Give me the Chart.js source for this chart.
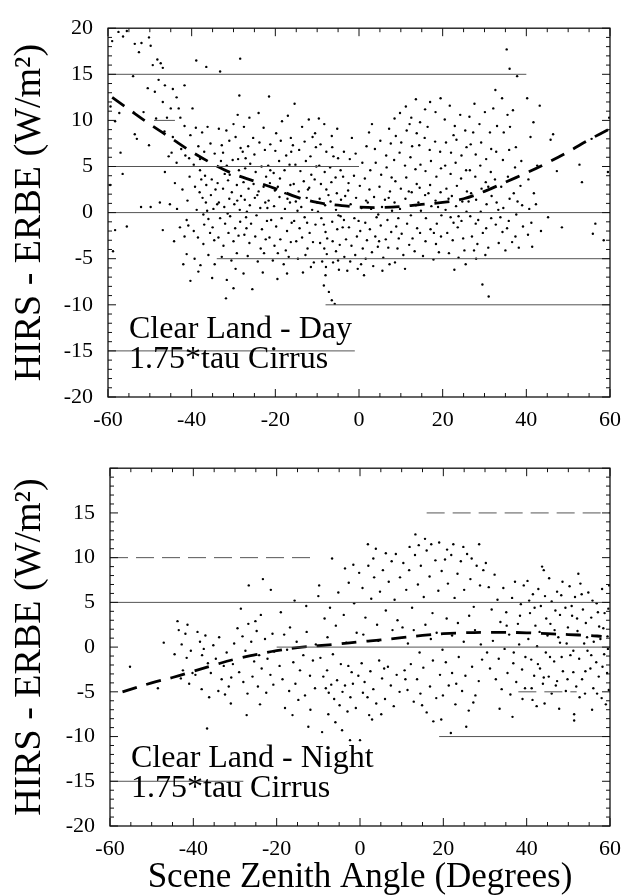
<!DOCTYPE html>
<html>
<head>
<meta charset="utf-8">
<script src="https://cdn.jsdelivr.net/npm/chart.js@4.4.0/dist/chart.umd.min.js"></script>
<style>
  html, body { margin: 0; padding: 0; background: #fff; }
  #wrap { position: relative; width: 631px; height: 895px; }
  canvas { position: absolute; left: 0; }
</style>
</head>
<body>
<div id="wrap">
  <canvas id="dayChart" width="631" height="440" style="top:0"></canvas>
  <canvas id="nightChart" width="631" height="455" style="top:440px"></canvas>
</div>
<script>
// scene zenith angle vs. HIRS - ERBE difference, one pair per footprint
const dayPoints = [
  [-59,18.6],[-57.5,19.6],[-56.4,19.1],[-55.5,19.7],[-53.6,18.3],[-52.6,17.4],[-52,18.4],[-50.2,19],[-49.8,18.1],[-49.3,16],
  [-48.2,16.6],[-47.4,16.2],[-46.9,15.7],[-47.9,14.4],[-46.4,13.8],[-48.8,13.1],[-46.9,12],[-58.3,9.9],[-57.3,10.8],[-59.4,11.5],
  [-53.6,8.5],[-53.1,8],[-50.2,7.3],[-56.5,4.2],[-52.1,0.6],[-49.8,0.6],[-55.5,-1.5],[-58.3,-1.9],[-46.9,-1.9],[-46.4,4.4],
  [-58.8,-4.2],[-59.5,3],[-54,14.8],[-51.5,10.9],[-48.5,10.2],[-50.5,13.5],[-46.5,8.8],[-47.6,1.1],[-57,6.5],
  [-45,11.3],[-45.9,10.3],[-44.5,13.4],[-43.6,12.5],[-41.7,13.8],[-43.1,11.3],[-42.7,10.3],[-41.7,9.4],[-40.3,8.4],[-43.6,5.4],
  [-44.8,6.5],[-42.5,6.9],[-41.5,6.2],[-40.6,5.9],[-44,3.2],[-42.2,2.5],[-41,1.3],[-45.2,0.9],[-43.5,0.4],[-41.2,-0.8],
  [-40.8,-1.4],[-41.7,-2.6],[-42.8,-1.6],[-44.2,-3.1],[-41.2,-4.5],[-40.3,-7.4],[-42,-5.6],[-45.5,6.1],[-40.5,3.9],[-44.5,8.2],
  [-39.8,11.3],[-38.9,16.5],[-36.5,15.8],[-39,9.2],[-37.5,8.7],[-36.2,9.3],[-38.4,7.2],[-37,6.6],[-35.5,7.5],[-34.5,6.4],
  [-39.5,5.2],[-38,4.6],[-36.8,4],[-35.2,3.6],[-39.2,2.8],[-38.1,2.2],[-37.4,1.6],[-36.6,1.1],[-35.4,1.9],[-34.3,2.5],
  [-38.8,0.3],[-37.2,-0.2],[-36,-0.7],[-34.8,0.4],[-39.5,-2],[-38.5,-2.7],[-37.2,-3.4],[-35.6,-2.2],[-34.6,-3],[-38.4,-6.4],
  [-37.9,-5.7],[-39.3,-5],[-36,-4.6],[-34.5,-5.6],[-37,-1.3],[-35,-1.6],[-36.5,3],[-38,5.8],
  [-33.2,15.3],[-28.4,16.7],[-33.5,9.1],[-31.7,8.9],[-30,9.6],[-28.6,12.7],[-29,10.6],[-32.8,7.3],[-31,7.8],[-29.5,8.2],
  [-28.3,7],[-33,5.6],[-31.6,5.1],[-30.2,5.7],[-28.7,4.6],[-33.8,3.2],[-32.5,2.6],[-31.3,3.5],[-30.4,2.2],[-29.2,3],
  [-28.2,1.8],[-33.5,1.1],[-32.2,0.6],[-31,1.5],[-29.8,0.9],[-28.5,0.3],[-33.2,-0.6],[-32,-1.2],[-30.8,-0.4],[-29.6,-1.7],
  [-28.4,-1],[-33.6,-2.7],[-32.4,-3.6],[-31.2,-2.2],[-30,-3.1],[-28.8,-2.5],[-32.8,-4.8],[-30.5,-5.2],[-29.2,-4.4],[-31.6,-7.3],
  [-30,-8.2],[-31.8,-9.3],[-29.5,-6.1],[-32.5,6.5],[-30.9,4.1],[-28.9,5.8],
  [-27.5,9.3],[-26.2,10.3],[-25.3,8.1],[-24,10.8],[-22.8,9.2],[-27.8,6.6],[-26.5,7.2],[-25,6.3],[-23.8,7.6],[-22.5,6.8],
  [-27.2,4.8],[-26,5.3],[-24.7,4.4],[-23.3,5],[-22.2,3.9],[-27.6,3.3],[-26.4,2.6],[-25.2,3.1],[-24,2.3],[-22.8,2.8],
  [-27.3,1.4],[-26.1,0.8],[-24.9,1.6],[-23.6,0.5],[-22.4,1.1],[-27,-0.5],[-25.8,-1.2],[-24.5,-0.3],[-23.2,-1.8],[-22,-0.9],
  [-27.4,-2.4],[-26.2,-3.3],[-24.8,-2.6],[-23.5,-3.9],[-22.3,-2.9],[-26.6,-4.7],[-24.2,-5.3],[-22.7,-4.4],[-25.5,-8.3],[-27.6,-6.6],[-23,-6.5],
  [-21.5,12.6],[-19.8,8.6],[-18.4,9.9],[-17,10.5],[-21.2,7.4],[-20,6.7],[-18.7,7.8],[-17.4,6.2],[-16.3,8.1],[-21.7,5.1],
  [-20.4,4.3],[-19.1,5.6],[-17.8,4.6],[-16.6,5.2],[-21.3,3.2],[-20.1,2.4],[-18.9,3.7],[-17.6,2.1],[-16.4,3],[-21.6,1.3],
  [-20.3,0.7],[-19,1.7],[-17.7,0.4],[-16.5,1.1],[-21,-0.8],[-19.8,-1.5],[-18.5,-0.6],[-17.2,-2],[-16.1,-1.1],[-21.4,-2.7],
  [-20.2,-3.6],[-18.8,-2.9],[-17.5,-4.1],[-16.3,-3.2],[-20.6,-5.2],[-18,-5.6],[-16.8,-4.8],[-19.5,-7.2],[-17.2,-6.6],
  [-15.4,11.8],[-13.6,9.3],[-12,10.1],[-10.5,8.6],[-15.8,7.3],[-14.3,6.8],[-13,7.7],[-11.6,6.1],[-10.3,7.1],[-15.2,5.2],
  [-14,4.5],[-12.7,5.6],[-11.4,4.1],[-10.2,5],[-15.6,3.1],[-14.4,2.3],[-13.2,3.4],[-11.9,2.7],[-10.6,3.6],[-15.1,1.2],
  [-13.8,0.6],[-12.5,1.6],[-11.2,0.3],[-10,1.1],[-15.5,-0.9],[-14.2,-1.7],[-13,-0.5],[-11.8,-2.2],[-10.4,-1.3],[-15,-3.1],
  [-13.6,-2.7],[-12.3,-3.9],[-11,-3.2],[-14.6,-5],[-12.8,-4.6],[-10.8,-5.4],[-13.4,-6.5],[-11.5,-5.9],
  [-9.6,10.2],[-8.3,9.6],[-6.5,8.3],[-5.2,9.1],[-9.2,7.4],[-7.8,6.6],[-6.4,7.1],[-5,5.9],[-9.5,5.1],[-8.2,4.4],
  [-6.9,4.9],[-5.6,3.8],[-4.4,4.6],[-9.1,3.1],[-7.8,2.5],[-6.6,3.3],[-5.3,2.1],[-9.4,1.5],[-8.1,0.8],[-6.8,1.2],
  [-5.5,0.3],[-4.3,1.4],[-9,-0.6],[-8.4,-1.3],[-8,-2.1],[-7.6,-2.8],[-6.4,-1],[-5.2,-1.8],[-4.4,-0.4],[-9.3,-3.3],
  [-8.3,-3.9],[-7.7,-4.5],[-6.3,-3.1],[-5.5,-4.2],[-4.6,-3.5],[-8.8,-5.3],[-7.9,-5.9],[-6.2,-5.4],[-5,-5.2],[-8.4,-7.9],
  [-7.2,-8.6],[-6.5,-9.5],[-5.8,-9.9],[-8,-6.8],[-4.8,-6.2],
  [-3.6,6.6],[-2.2,5.8],[-0.8,6.4],[0.8,5.4],[1.8,7.2],[-3.8,3.9],[-2.5,3.2],[-1.2,4],[0.2,2.9],[1.4,3.7],
  [-3.3,1.8],[-2,0.9],[-0.7,1.6],[0.6,0.5],[1.7,1.3],[-3.6,-0.8],[-2.4,-1.6],[-1.1,-0.6],[0.3,-2],[1.5,-1.1],
  [-3.1,-2.9],[-1.8,-3.6],[-0.5,-2.6],[0.9,-3.9],[1.9,-3],[-3.5,-4.8],[-2.1,-5.3],[-0.9,-4.6],[0.5,-5.6],[1.6,-5],
  [-2.8,-6.3],[-0.3,-6.1],[1.2,-6.8],
  [2.4,8.7],[3.8,6.9],[5.1,7.8],[6.5,6.2],[7.6,7.5],[2.7,4.6],[4,5.4],[5.3,4.1],[6.6,4.9],[7.8,3.8],
  [2.5,2.5],[3.6,1.7],[4.9,2.8],[6.2,1.4],[7.4,2.3],[2.9,0.4],[4.2,-0.5],[5.5,0.6],[6.8,-0.8],[7.9,0.2],
  [2.6,-1.8],[3.9,-2.6],[5.2,-1.4],[6.4,-2.9],[7.7,-2.1],[3.1,-4.3],[4.5,-3.7],[5.8,-4.9],[7,-3.8],[3.4,-5.8],[5.6,-6.3],[7.3,-5.6],
  [8.5,10.2],[9.8,10.8],[11.2,11.5],[12.5,10.3],[13.6,12.3],[8.8,8.3],[10.1,7.6],[11.4,8.9],[12.7,7.2],[13.8,8.6],
  [8.4,5.7],[9.7,6.5],[11,5.1],[12.3,6],[13.5,4.7],[8.7,3.4],[10,2.6],[11.3,3.8],[12.6,2.2],[13.8,3.1],
  [8.5,1.1],[9.8,0.4],[11.1,1.5],[12.4,-0.3],[13.6,0.8],[8.9,-1.5],[10.2,-2.3],[11.5,-1.2],[12.8,-2.8],[13.9,-1.7],
  [9.2,-3.9],[10.6,-4.6],[12,-3.5],[13.3,-4.2],[8.6,-5.4],[11,-6.1],
  [14.6,9.8],[15.8,11.2],[17,12],[18.3,10.9],[19.5,12.4],[14.4,7.3],[15.7,8.1],[16.9,6.8],[18.2,7.7],[19.4,6.6],
  [14.7,5.2],[15.9,4.5],[17.2,5.6],[18.5,3.9],[19.6,4.8],[14.5,2.7],[15.8,1.9],[17,3],[18.3,1.3],[19.5,2.2],
  [14.8,0.2],[16,-0.6],[17.3,0.7],[18.6,-1.2],[19.7,-0.3],[14.6,-2.2],[15.9,-3.1],[17.1,-1.8],[18.4,-3.4],[19.6,-2.6],
  [15.3,-4.7],[17.8,-5.1],[19.1,-4.3],
  [20.5,10.1],[21.7,11.6],[22.9,9.4],[24.2,10.6],[25.4,8.9],[20.8,7.6],[22,6.5],[23.3,7.9],[24.5,6.2],[25.7,7.1],
  [20.6,5.1],[21.9,4.2],[23.1,5.4],[24.4,3.7],[25.6,4.6],[20.9,2.6],[22.2,1.8],[23.4,2.9],[24.7,1.2],[25.8,2.3],
  [20.7,0.3],[21.9,-0.5],[23.2,0.7],[24.5,-0.9],[25.7,0.1],[21.1,-2.2],[22.4,-3],[23.6,-1.6],[24.9,-2.8],[21.5,-4.4],
  [23.8,-4.9],[25.2,-4.1],[22.8,-6.2],[25.5,-5.6],
  [26.4,10.4],[27.6,11.8],[28.8,9.6],[30.1,10.9],[31.3,8.7],[26.7,7.4],[27.9,6.3],[29.2,7.6],[30.4,5.8],[31.6,6.9],
  [26.5,4.6],[27.8,3.9],[29,5.1],[30.3,3.3],[31.5,4.4],[26.8,2.1],[28,1.4],[29.3,2.6],[30.5,0.9],[31.7,1.8],
  [26.6,-0.4],[27.9,-1.2],[29.1,0.1],[30.4,-1.7],[31.6,-0.6],[27,-2.6],[28.3,-3.4],[29.6,-2.2],[30.9,-3.8],[28,-5],
  [30.2,-4.6],[29.5,-7.8],[31,-9.1],
  [32.6,13.3],[34.2,12.4],[35.5,10.6],[33,9.4],[34.6,8.7],[36.1,9.3],[37.5,7.1],[32.8,6.6],[34.4,5.7],[35.9,6.8],
  [37.3,4.9],[38.8,5.6],[32.5,3.6],[34,2.8],[35.6,3.9],[37,2.1],[38.6,2.9],[32.9,1.1],[34.5,0.5],[36,1.5],
  [37.6,-0.2],[39,0.8],[32.7,-1.3],[34.3,-2.1],[35.8,-0.9],[37.4,-2.6],[39.2,-1.5],[33.4,-3.3],[35,-4.1],[36.6,-3.2],
  [38.2,-3.8],[36,15.6],[35.3,17.7],[37.8,14.8],
  [40.2,12.4],[41.7,9.8],[43.2,11.6],[41,8.2],[42.6,5.1],[40.5,3.6],[41.8,2.1],[40.7,0.4],[42.3,0.9],[41.2,-1.1],
  [40.4,-2.4],[41.4,-3.7],[43.5,-2],[45.2,-0.5],[45.8,7.9],[46.4,8.5],[47.3,4.5],[48.5,-1.6],[52.7,5.2],[53.3,3.3],
  [55.6,8],[56.5,-1.2],[58.5,-3],[59.5,4.4],[59.8,10.3],[55.9,-2.3],
  [-36.3,0.2],[-33.9,0.9],[-31.4,-0.1],[-29.1,1.3],[-26.8,0.1],[-24.3,1.9],[-21.9,0.5],[-19.4,2.8],[-17.1,1.5],[-14.7,0.2],
  [-12.2,2.5],[-9.8,0.1],[-7.3,1.9],[-4.9,-0.3],[-2.6,2.4],[-0.1,-0.9],[2.1,1.1],[4.6,-0.2],[7.1,1.6],[9.4,-0.6],
  [11.9,2.3],[14.2,1.1],[16.6,2.1],[18.9,0.6],[21.4,1.5],[23.8,-0.4],[26.2,1.2],[28.5,-0.8],[30.9,2.8],[33.3,0.3],
  [35.4,-1.7],[37.9,1.2],[-37.7,3.6],[-32.1,4.2],[-27.1,5.9],[-21.2,4.6],[-16.2,6.6],[-11.1,8.2],[-6.1,6.1],[-1.7,8.1],
  [3.1,9.6],[7.2,9.1],[12.1,9.6],[16.4,9.3],[22.6,8.4],[27.3,8.7],[32.1,11.3],[36.8,11.1],[-35.1,-7.1],[-26.9,-1.7],
  [-19.4,-4.4],[-12.4,-1.1],[-3.9,-1.6],[4.8,-3.1],[9.5,-2.8],[17.9,-2.2],[22.6,-1.1],[27.5,-4.1],[33.8,-0.5]
];

const nightPoints = [
  [-55.2,-2.2],[-47.1,0.5],[-43.8,2.9],[-43.5,1.9],[-42.8,0.3],[-41.4,2.5],[-41.9,1.5],[-41.6,-1.2],[-42.5,-2.6],[-40.6,-0.4],
  [-40.2,-2.9],[-41,-4.1],[-43,-3.5],[-44.5,-0.8],[-36.7,-9.1],[-48.5,-4.6],
  [-39,1.7],[-38.4,0.6],[-37.9,-0.9],[-37.1,1.3],[-36.5,-1.8],[-35.8,-2.9],[-35.2,0.2],[-34.6,-1.3],[-33.8,1.1],[-33.2,-3.6],
  [-32.7,-2.1],[-32,-0.6],[-31.5,-4.4],[-31,-6.3],[-30.5,-1.9],[-30.2,0.4],[-39.5,-3.1],[-38,-4.7],[-36.2,-5.6],[-34,-4.9],[-32.4,-5.3],
  [-28.6,4.3],[-26.7,6.9],[-23.8,3.6],[-23.3,7.6],[-21.4,6.4],[-21,1.5],[-29.4,2.1],[-28.2,1.2],[-27.5,-0.4],[-26.8,2.6],
  [-26.1,0.6],[-25.4,-1.6],[-24.8,1.8],[-24.2,-0.9],[-23.6,-2.4],[-22.8,0.9],[-22.2,-1.3],[-21.5,-3.1],[-20.6,-0.5],[-29,-2.8],
  [-28,-3.9],[-27,-5.2],[-25.8,-3.3],[-24.5,-4.4],[-22.5,-5.1],[-20.8,-4.2],[-27.2,-7.6],[-24,-6.4],
  [-19,3.9],[-15.7,5.2],[-12.9,4.6],[-10,5.7],[-18.2,1.4],[-17.5,-0.3],[-16.8,2.2],[-16,-1.7],[-15.2,0.6],[-14.4,-2.6],
  [-13.6,-0.9],[-12.8,1.7],[-12,-3.2],[-11.3,-1.5],[-10.6,0.3],[-19.3,-2.1],[-18.6,-3.6],[-17,-4.9],[-15.5,-4.1],[-14.8,-5.9],
  [-13.2,-5.4],[-11.9,-7],[-12.4,-8.9],[-10.8,-4.6],[-18,-6.8],[-16.2,-7.6],
  [-6.7,9.9],[-9.1,-9.5],[-4.3,-9.3],[-2.4,-10.4],[-8.5,3.2],[-7.8,1.1],[-7.2,4.4],[-6.5,-0.8],[-5.8,2.4],[-5.2,6.1],
  [-4.6,-1.9],[-3.9,3.6],[-3.3,0.5],[-2.7,7.2],[-2,-2.8],[-1.4,4.9],[-0.8,1.6],[-0.2,8.3],[-9.5,-1.2],[-8.8,-3.3],
  [-8.2,-4.6],[-7.5,-5.1],[-6.9,-4.2],[-6.2,-5.8],[-5.5,-3.7],[-4.9,-6.5],[-4.2,-5],[-3.6,-4.3],[-3,-7.2],[-2.3,-5.6],
  [-1.7,-4.1],[-1,-6.8],[-0.4,-3.2],[-7.6,-7.5],[-5.9,-8.4],[-9.8,6.9],[-1.6,9.2],[-3.6,8.8],
  [0,-10.4],[2.9,-8.1],[3.8,11],[1.9,11.5],[6.2,10.5],[0.6,6.6],[1.3,3.3],[2,9.1],[2.7,5.4],[3.4,7.8],
  [4.1,2.5],[4.8,6.2],[5.5,8.6],[6.2,4.1],[6.9,7.3],[7.6,9.6],[8.3,5.3],[9,3],[9.6,7.8],[0.4,-1.8],
  [1.1,-3.9],[1.8,-5.6],[2.5,-2.7],[3.2,-4.7],[3.9,-6.3],[4.6,-1.5],[5.3,-3.5],[6,-5.8],[6.7,-2.2],[7.4,-4.3],
  [8.1,-6.6],[8.8,-3.1],[9.5,-5],[0.8,1.4],[4.4,0.7],[7.8,1.9],[5.1,-7.5],[2.2,-7.6],
  [13.3,12.6],[17.1,11.5],[19,11.7],[17.6,-8.3],[19.5,-8.1],[10.4,9.4],[11.1,6.4],[11.8,8.6],[12.5,4.4],[13.2,10.3],
  [13.9,7],[14.6,9.1],[15.3,5.6],[16,10.8],[16.7,7.9],[17.4,3.8],[18.1,9.7],[18.8,6.3],[19.6,8.5],[10.2,2.2],
  [11.5,0.4],[12.9,1.9],[14.3,-0.6],[15.7,2.5],[17,0.9],[18.4,1.6],[19.8,-0.3],[10.7,-2.6],[11.4,-4.8],[12.2,-1.9],
  [12.9,-6.1],[13.7,-3.6],[14.5,-5.2],[15.2,-2.3],[16,-7.3],[16.8,-4.4],[17.5,-1.5],[18.3,-5.7],[19.2,-3.1],[15.6,12.1],[11.9,11.2],
  [22.4,11.5],[28.6,11.5],[20.4,9.8],[21.1,7.1],[21.9,10.3],[22.7,5.5],[23.4,8.2],[24.2,9.6],[25,6.4],[25.7,10.4],
  [26.5,7.6],[27.3,4.5],[28,9.1],[28.8,6.9],[29.6,8.6],[20.8,3.2],[22.1,1.3],[23.5,2.7],[24.9,0.6],[26.2,3.5],
  [27.6,1.9],[29,0.3],[20.6,-1.7],[21.3,-4.3],[22.1,-2.9],[22.9,-6.4],[23.7,-1.1],[24.5,-4.9],[25.3,-3.2],[26.1,-7.1],
  [26.9,-2.2],[27.7,-5.4],[28.5,-3.8],[29.3,-1.4],[25.5,-8.9],[21.8,-9.6],
  [30.2,9.4],[30.9,6.7],[31.6,4.2],[32.3,8.1],[33,5.3],[33.7,2.8],[34.4,6.6],[35.1,3.9],[35.8,1.4],[36.5,5.5],
  [37.2,7.3],[37.9,2.6],[38.6,4.8],[39.3,6.9],[30.5,-0.6],[31.2,-2.4],[31.9,0.7],[32.6,-3.6],[33.3,-1.3],[34,-4.7],
  [34.7,-0.2],[35.4,-2.9],[36.1,-5.3],[36.8,-1.8],[37.5,-3.9],[38.2,0.3],[38.9,-2.5],[39.6,-4.6],[33.5,-6.9],[36.6,-7.8],[39,-5.8],
  [41.4,-5.9],[44.3,-6.3],[40.2,7.4],[40.8,3.8],[41.5,5.9],[42.1,2.4],[42.8,6.5],[43.4,4.6],[44.1,8.6],[44.7,3.2],
  [45.4,7.7],[46,5.1],[46.7,1.9],[47.3,6.2],[48,3.6],[48.6,7.3],[49.3,4.4],[49.9,2.2],[40.4,0.9],[41.1,-1.4],
  [41.8,-3.2],[42.5,0.1],[43.2,-2.4],[43.9,-4.1],[44.6,-0.6],[45.3,-3.3],[46,-5.2],[46.6,-1.6],[47.3,-3.8],[48,0.5],
  [48.7,-2.7],[49.4,-4.9],[45,1.3],[47.6,1.1],[42.4,-6.6],[47.8,-6.9],[43.7,9],
  [51.4,-8.2],[51.4,-7.5],[55.7,-7],[50.3,6.8],[50.9,3.5],[51.6,5.6],[52.2,1.8],[52.9,7.1],[53.5,4.2],[54.2,2.7],
  [54.8,6.1],[55.5,3.3],[56.1,0.6],[56.8,4.9],[57.4,2.3],[58.1,6.5],[58.7,3.8],[59.4,1.2],[59.8,6.9],[50.5,-0.9],
  [51.2,-2.8],[51.9,-4.4],[52.6,-1.3],[53.3,-3.6],[54,-5.2],[54.6,-0.4],[55.3,-2.4],[56,-4.6],[56.7,-1.7],[57.3,-3.3],
  [58,-5.7],[58.6,-0.8],[59.3,-2.9],[59.7,-4.8],[53.8,0.4],[57.7,0.9],[59,-6.4],[52.4,8.2],
  [40.6,5.2],[41.9,4.4],[43.1,1.7],[44.4,5.7],[45.7,2.6],[46.9,4.1],[48.3,5.8],[49.6,0.4],[50.8,4.6],[52.1,3.2],
  [53.2,5.9],[54.5,1.1],[55.8,5.2],[57.1,3.9],[58.4,2.1],[59.6,4.3],[41.2,-4.6],[42.7,-1.9],[44.1,-3.4],[45.6,-1.1],
  [47,-4.3],[48.4,-1.1],[49.8,-3.6],[51.2,-0.4],[52.7,-5.6],[54.1,-2.7],[55.5,-0.9],[56.9,-5.2],[58.2,-2.2],[59.5,-0.2],
  [35.2,2.4],[36.9,-0.6],[38.4,3.5],[39.7,-1.1],[3.2,9.9],[8.6,10.4],[14.1,11.4],[20.9,10.9],[24.8,11.2],[26.8,9.9],
  [5.8,-2.4],[10.9,-3.6],[14.9,-6.5],[19.9,-5.4],[23.1,-4.1],[27.2,-6.2],[-2.8,-2.1],[-7.9,-2.6],[0.7,-5.1],[-25.1,2.9],
  [-30.9,-3.4],[-37.5,-0.2]
];

// fitted curves
const dayFitAngles = [-59,-55,-50,-45,-40,-35,-30,-25,-20,-15,-10,-5,0,5,10,15,20,25,30,35,40,45,50,55,60];
const dayFitValues = [12.5,11.2,9.6,8.1,6.6,5.3,4.2,3.4,2.6,1.7,1.1,0.8,0.6,0.55,0.65,0.9,1.1,1.5,2.3,3.3,4.3,5.4,6.6,7.9,9.1];
const nightFitAngles = [-57,-50,-45,-40,-35,-30,-25,-20,-15,-10,-5,0,5,10,15,20,25,30,35,40,45,50,55,58];
const nightFitValues = [-5,-4,-3.4,-2.7,-2,-1.35,-0.85,-0.4,-0.05,0.15,0.35,0.6,0.8,1.05,1.3,1.5,1.6,1.65,1.65,1.6,1.5,1.4,1.3,1.2];

// guide lines: [value, from angle, to angle]
const dayGuides = [[15,-60,40],[10,-49,-44],[5,-60,0],[0,-60,60],[-5,-34,60],[-10,-8,60],[-15,-60,-1]];
const dayDashedGuides = [];
const nightGuides = [[5,-60,60],[0,-20,60],[-10,19,60],[-15,-60,-28]];
const nightDashedGuides = [[15,16,60],[10,-60,-12],[-5,38,52]];

const angleTicks = [-60,-40,-20,0,20,40,60];
const diffRange = [-20,20];
const dayLabel = ['Clear Land - Day','1.75*tau Cirrus'];
const nightLabel = ['Clear Land - Night','1.75*tau Cirrus'];

const serif = 'Liberation Serif';

const framePlugin = {
  id: 'frame',
  afterDatasetsDraw(chart) {
    const {ctx, chartArea: a, scales: {x, y}} = chart;
    ctx.save();
    ctx.strokeStyle = '#111';
    ctx.lineWidth = 1.3;
    ctx.strokeRect(a.left, a.top, a.right - a.left, a.bottom - a.top);
    ctx.lineWidth = 1;
    ctx.beginPath();
    for (let v = -60; v <= 60; v += 5) {
      const px = x.getPixelForValue(v);
      const len = v % 20 === 0 ? 8 : 4;
      ctx.moveTo(px, a.bottom); ctx.lineTo(px, a.bottom - len);
      ctx.moveTo(px, a.top); ctx.lineTo(px, a.top + len);
    }
    for (let v = diffRange[0]; v <= diffRange[1]; v += 1) {
      const py = y.getPixelForValue(v);
      const len = v % 5 === 0 ? 8 : 4;
      ctx.moveTo(a.left, py); ctx.lineTo(a.left + len, py);
      ctx.moveTo(a.right, py); ctx.lineTo(a.right - len, py);
    }
    ctx.stroke();
    const lines = chart.options.plugins.frame.lines;
    ctx.fillStyle = '#000';
    ctx.font = '32px "' + serif + '"';
    ctx.textAlign = 'left';
    ctx.textBaseline = 'alphabetic';
    ctx.fillText(lines[0], a.left + 21, a.bottom - 59);
    ctx.fillText(lines[1], a.left + 21, a.bottom - 29);
    ctx.restore();
  }
};

function guideSet(g, dash) {
  return {
    type: 'line',
    data: [{x: g[1], y: g[0]}, {x: g[2], y: g[0]}],
    borderColor: '#555',
    borderWidth: 1,
    borderDash: dash,
    pointRadius: 0,
    showLine: true
  };
}

function makeChart(id, cfg) {
  const datasets = [];
  cfg.guides.forEach(g => datasets.push(guideSet(g, [])));
  cfg.dashed.forEach(g => datasets.push(guideSet(g, [18, 8])));
  datasets.push({
    type: 'scatter',
    data: cfg.points.map(p => ({x: p[0], y: p[1]})),
    pointRadius: 1.2,
    pointBackgroundColor: '#000',
    pointBorderWidth: 0
  });
  datasets.push({
    type: 'line',
    data: cfg.fitX.map((v, i) => ({x: v, y: cfg.fitY[i]})),
    borderColor: '#000',
    borderWidth: 2.8,
    borderDash: [15, 10],
    pointRadius: 0,
    tension: 0.4,
    fill: false
  });

  new Chart(document.getElementById(id), {
    type: 'scatter',
    data: {datasets},
    plugins: [framePlugin],
    options: {
      responsive: false,
      animation: false,
      layout: {padding: cfg.padding},
      plugins: {
        legend: {display: false},
        tooltip: {enabled: false},
        frame: {lines: cfg.label}
      },
      scales: {
        x: {
          type: 'linear',
          min: -60,
          max: 60,
          afterBuildTicks: s => { s.ticks = angleTicks.map(v => ({value: v})); },
          ticks: {color: '#000', font: {family: serif, size: 22}, padding: 10, maxRotation: 0, autoSkip: false},
          grid: {display: false, drawTicks: false},
          border: {display: false},
          title: cfg.xTitle ? {display: true, text: cfg.xTitle, color: '#000', font: {family: serif, size: 35}, padding: {top: 0, bottom: -4}} : {display: false},
          afterFit: s => { s.height = cfg.xHeight; }
        },
        y: {
          min: diffRange[0],
          max: diffRange[1],
          ticks: {
            stepSize: 5,
            color: '#000',
            font: {family: serif, size: 22},
            padding: 15,
            callback: v => (cfg.hideTop && v === diffRange[1]) ? '' : v
          },
          grid: {display: false, drawTicks: false},
          border: {display: false},
          title: {display: true, text: 'HIRS - ERBE (W/m²)', color: '#000', font: {family: serif, size: 38}, padding: {top: 7, bottom: 0}},
          afterFit: s => { s.width = cfg.yWidth; }
        }
      }
    }
  });
}

makeChart('dayChart', {
  points: dayPoints, fitX: dayFitAngles, fitY: dayFitValues,
  guides: dayGuides, dashed: dayDashedGuides, label: dayLabel,
  padding: {top: 21, right: 16, bottom: 0, left: 0},
  xHeight: 43, yWidth: 108, hideTop: false
});

makeChart('nightChart', {
  points: nightPoints, fitX: nightFitAngles, fitY: nightFitValues,
  guides: nightGuides, dashed: nightDashedGuides, label: nightLabel,
  padding: {top: 12, right: 14, bottom: 0, left: 0},
  xHeight: 69, yWidth: 110, hideTop: true,
  xTitle: 'Scene Zenith Angle (Degrees)'
});
</script>
</body>
</html>
